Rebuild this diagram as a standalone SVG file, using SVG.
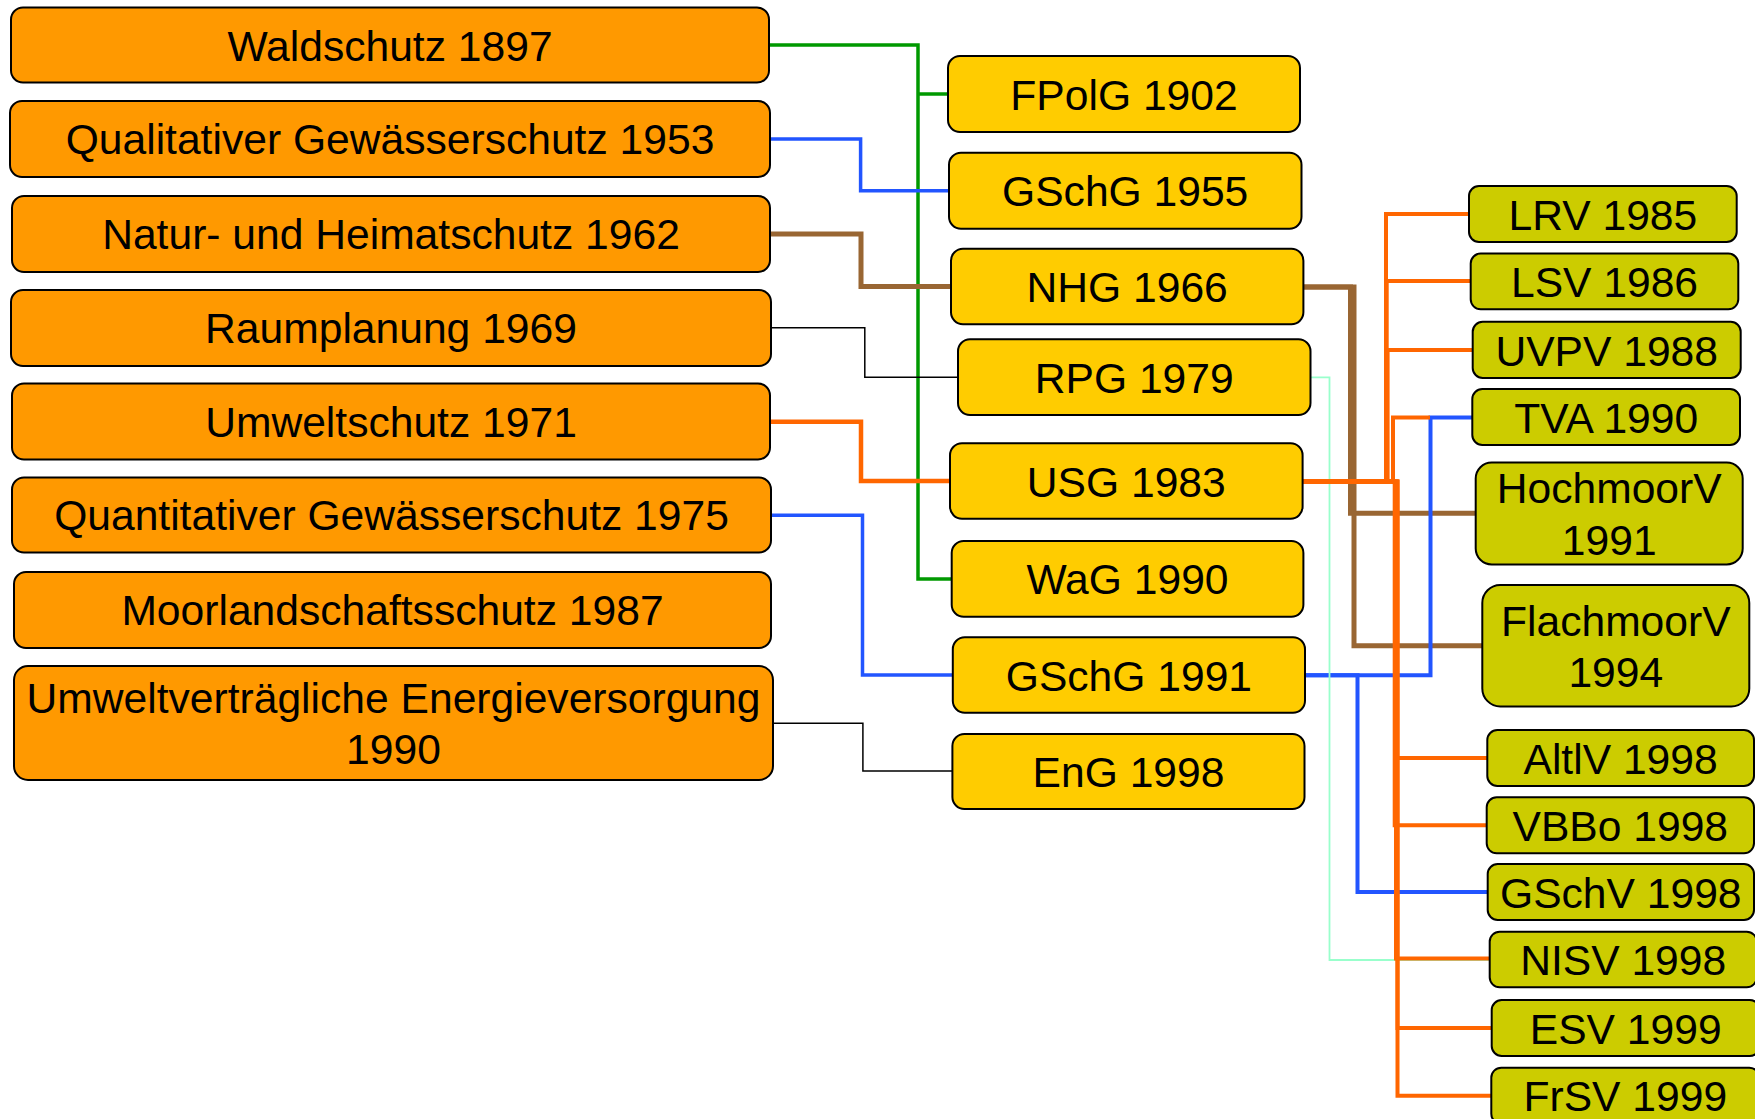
<svg xmlns="http://www.w3.org/2000/svg" width="1755" height="1119" viewBox="0 0 1755 1119">
<style>
text{font-family:"Liberation Sans",Arial,sans-serif;font-size:42.6px;fill:#000;text-anchor:middle}
.b{stroke:#000;stroke-width:2}
.l1{fill:#FF9900}
.l2{fill:#FFCC00}
.l3{fill:#CCCC00}
.c{fill:none;stroke-linejoin:miter;stroke-linecap:butt}
.g{stroke:#009900;stroke-width:3.5}
.bl{stroke:#2255FF;stroke-width:3.5}
.br{stroke:#996633;stroke-width:5}
.k{stroke:#000;stroke-width:1.5}
.o{stroke:#FF6600;stroke-width:4}
.m{stroke:#99FFCC;stroke-width:1.8}
</style>
<rect width="1755" height="1119" fill="#fff"/>
<g id="connectors" class="c">
<path class="g" d="M769,45 H918 V579 H951.7 M918,94 H948"/>
<path class="bl" d="M770,139 H860.6 V190.7 H949"/>
<path class="br" d="M770,234 H861 V286.6 H951"/>
<path class="k" d="M771,327.7 H864.8 V377.3 H958"/>
<path class="o" style="stroke-width:4.5" d="M770,421.7 H861 V481 H950"/>
<path class="bl" d="M771,515.3 H862.5 V675 H952.8"/>
<path class="k" d="M773,723.3 H862.9 V771 H952.4"/>
<path class="br" d="M1303.4,287 H1350.5 V513.3 H1475.7"/>
<path class="br" d="M1303.4,287 H1354 V645.7 H1482.3"/>
<path class="bl" style="stroke-width:4" d="M1305,675.3 H1430.5 V417.5 H1472.3"/>
<path class="bl" style="stroke-width:4" d="M1305,675.3 H1357.5 V892 H1487.7"/>
<path class="m" d="M1310.6,377.3 H1329.5 V960 H1489.7"/>
<path class="o" d="M1302.6,481.5 H1386 V214 H1469"/>
<path class="o" d="M1302.6,481.5 H1386.7 V281 H1470.7"/>
<path class="o" d="M1302.6,481.5 H1387.6 V350 H1472.7"/>
<path class="o" d="M1302.6,481.5 H1393 V417.5 H1430"/>
<path class="o" d="M1302.6,481.5 H1397 V758 H1487.3"/>
<path class="o" d="M1302.6,481.5 H1394.7 V825.3 H1486.7"/>
<path class="o" d="M1302.6,481.5 H1396 V958.5 H1489.7"/>
<path class="o" d="M1302.6,481.5 H1397.5 V1028 H1491.7"/>
<path class="o" d="M1302.6,481.5 H1397.5 V1095.7 H1491.3"/>
</g>
<g id="waldschutz"><rect class="b l1" x="11" y="7.5" width="758" height="75" rx="12"/><text x="390" y="60.5">Waldschutz 1897</text></g>
<g id="qualitativer"><rect class="b l1" x="10" y="101" width="760" height="76" rx="12"/><text x="390" y="154">Qualitativer Gewässerschutz 1953</text></g>
<g id="natur"><rect class="b l1" x="12" y="196" width="758" height="76" rx="12"/><text x="391" y="249">Natur- und Heimatschutz 1962</text></g>
<g id="raumplanung"><rect class="b l1" x="11" y="290" width="760" height="76" rx="12"/><text x="391" y="343">Raumplanung 1969</text></g>
<g id="umweltschutz"><rect class="b l1" x="12" y="383.5" width="758" height="76" rx="12"/><text x="391" y="436.5">Umweltschutz 1971</text></g>
<g id="quantitativer"><rect class="b l1" x="12" y="477.5" width="759" height="75" rx="12"/><text x="391.5" y="530">Quantitativer Gewässerschutz 1975</text></g>
<g id="moorlandschaft"><rect class="b l1" x="14" y="572" width="757" height="76" rx="12"/><text x="392.5" y="625">Moorlandschaftsschutz 1987</text></g>
<g id="energie"><rect class="b l1" x="14" y="666" width="759" height="114" rx="14"/><text x="393.5" y="713">Umweltverträgliche Energieversorgung</text><text x="393.5" y="764">1990</text></g>
<g id="fpolg"><rect class="b l2" x="948" y="56" width="352" height="76" rx="12"/><text x="1124" y="109.5">FPolG 1902</text></g>
<g id="gschg1955"><rect class="b l2" x="949" y="152.7" width="352.5" height="76" rx="12"/><text x="1125.2" y="206">GSchG 1955</text></g>
<g id="nhg"><rect class="b l2" x="951" y="248.7" width="352.4" height="75.6" rx="12"/><text x="1127.2" y="302">NHG 1966</text></g>
<g id="rpg"><rect class="b l2" x="958" y="339.3" width="352.5" height="75.7" rx="12"/><text x="1134.2" y="392.7">RPG 1979</text></g>
<g id="usg"><rect class="b l2" x="950" y="443.3" width="352.6" height="75.4" rx="12"/><text x="1126.3" y="496.5">USG 1983</text></g>
<g id="wag"><rect class="b l2" x="951.7" y="541" width="351.7" height="75.7" rx="12"/><text x="1127.5" y="594.4">WaG 1990</text></g>
<g id="gschg1991"><rect class="b l2" x="952.8" y="637.3" width="352.2" height="75.4" rx="12"/><text x="1128.9" y="690.5">GSchG 1991</text></g>
<g id="eng"><rect class="b l2" x="952.4" y="734" width="352.1" height="75" rx="12"/><text x="1128.5" y="787">EnG 1998</text></g>
<g id="lrv"><rect class="b l3" x="1469" y="186" width="267.7" height="56" rx="10"/><text x="1602.9" y="229.6">LRV 1985</text></g>
<g id="lsv"><rect class="b l3" x="1470.7" y="253.6" width="267.6" height="55.7" rx="10"/><text x="1604.5" y="297">LSV 1986</text></g>
<g id="uvpv"><rect class="b l3" x="1472.7" y="321.8" width="268" height="56.1" rx="10"/><text x="1606.7" y="365.5">UVPV 1988</text></g>
<g id="tva"><rect class="b l3" x="1472.3" y="389" width="267.7" height="56" rx="10"/><text x="1606.2" y="432.5">TVA 1990</text></g>
<g id="hochmoorv"><rect class="b l3" x="1475.7" y="462.5" width="267" height="102" rx="16"/><text x="1609.2" y="502.9">HochmoorV</text><text x="1609.2" y="554.6">1991</text></g>
<g id="flachmoorv"><rect class="b l3" x="1482.3" y="585" width="267" height="121.4" rx="18"/><text x="1615.8" y="635.7">FlachmoorV</text><text x="1615.8" y="686.8">1994</text></g>
<g id="altlv"><rect class="b l3" x="1487.3" y="730" width="266.7" height="56" rx="10"/><text x="1620.6" y="773.5">AltlV 1998</text></g>
<g id="vbbo"><rect class="b l3" x="1486.7" y="797.3" width="267.3" height="56" rx="10"/><text x="1620.3" y="840.8">VBBo 1998</text></g>
<g id="gschv"><rect class="b l3" x="1487.7" y="864" width="266.3" height="56" rx="10"/><text x="1620.8" y="907.5">GSchV 1998</text></g>
<g id="nisv"><rect class="b l3" x="1489.7" y="931.7" width="267" height="55.6" rx="10"/><text x="1623.2" y="975">NISV 1998</text></g>
<g id="esv"><rect class="b l3" x="1491.7" y="1000" width="268" height="56" rx="10"/><text x="1625.7" y="1043.5">ESV 1999</text></g>
<g id="frsv"><rect class="b l3" x="1491.3" y="1067.7" width="268" height="56" rx="10"/><text x="1625.3" y="1111.2">FrSV 1999</text></g>
</svg>
